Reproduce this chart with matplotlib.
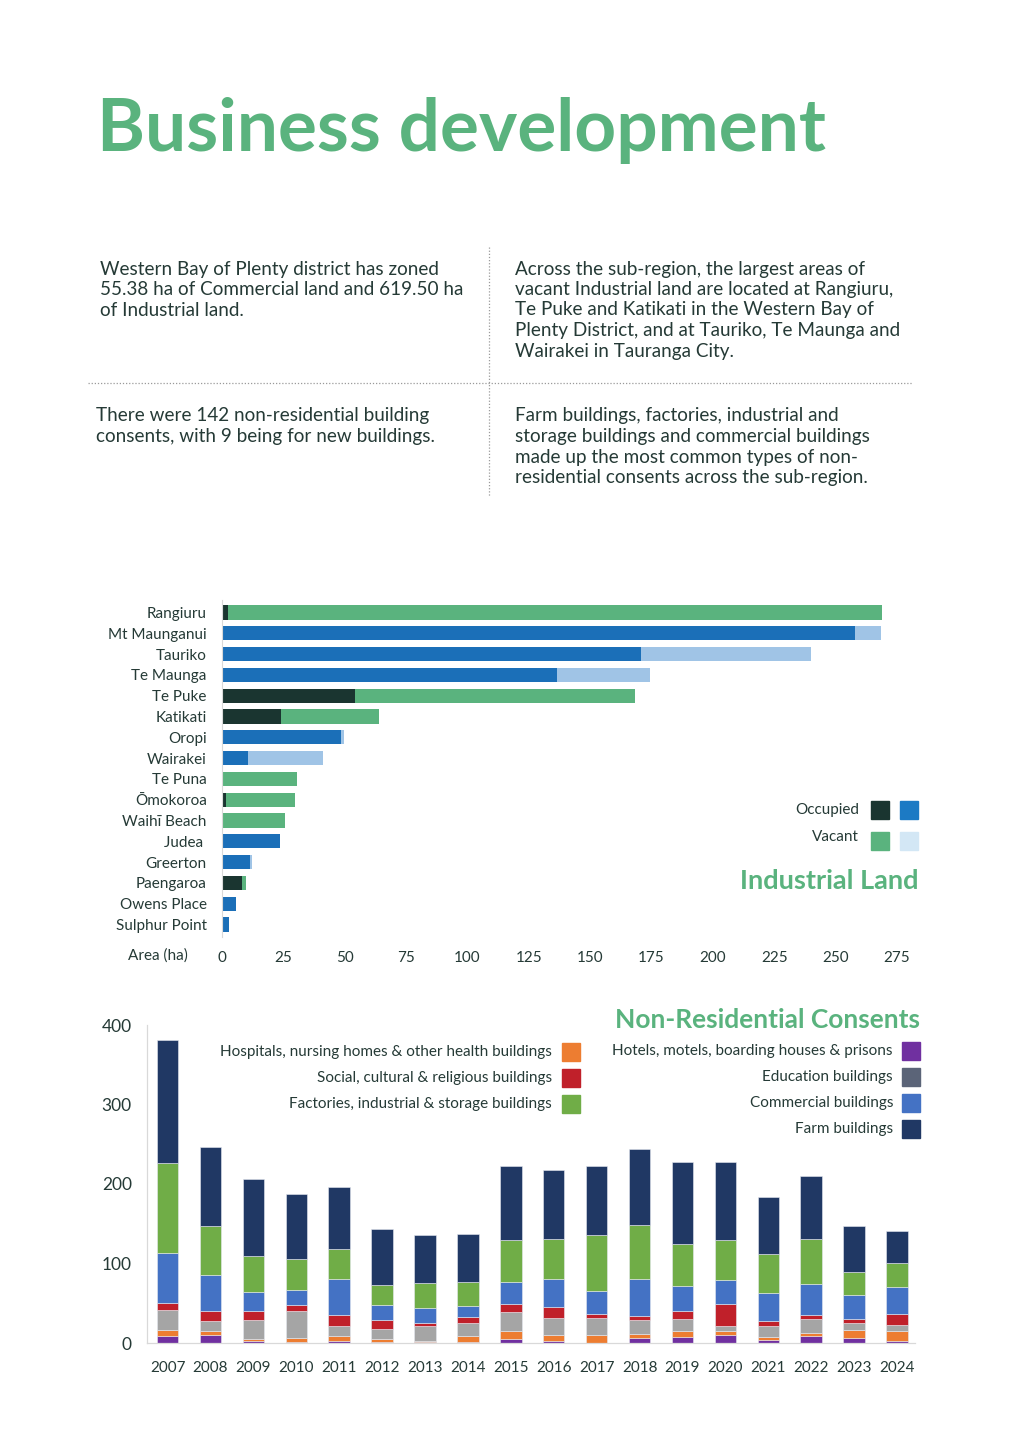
import numpy as np
import matplotlib
matplotlib.use("Agg")
import matplotlib.pyplot as plt
from matplotlib.patches import Rectangle
from matplotlib.lines import Line2D

plt.rcParams['font.family'] = ['Lato', 'DejaVu Sans']

# ---- data ----
locations = ['Rangiuru', 'Mt Maunganui', 'Tauriko', 'Te Maunga', 'Te Puke', 'Katikati',
             'Oropi', 'Wairakei', 'Te Puna', 'Ōmokoroa', 'Waihī Beach', 'Judea ',
             'Greerton', 'Paengaroa', 'Owens Place', 'Sulphur Point']
# True = Western Bay of Plenty (green palette), False = Tauranga City (blue palette)
is_wbop = [True, False, False, False, True, True, False, False, True, True, True, False,
           False, True, False, False]
occupied = [2.4, 257.7, 170.5, 136.6, 54.2, 24.0, 48.4, 10.6, 0.0, 1.5, 0.0, 23.7,
            11.3, 8.1, 5.9, 2.9]
vacant = [266.6, 10.6, 69.5, 37.9, 114.0, 39.8, 1.2, 30.4, 30.5, 28.4, 25.6, 0.0,
          0.8, 1.5, 0.0, 0.0]
area_ticks = [0, 25, 50, 75, 100, 125, 150, 175, 200, 225, 250, 275]

years = [str(y) for y in range(2007, 2025)]
hotels = [9.2, 10, 2, 1.3, 2.5, 0.8, 0.8, 1.3, 5, 2.5, 0, 5.9, 7.5, 10.5, 3.4, 9.2, 6.3, 2.5]
hospitals = [6.7, 4.6, 3.4, 5, 6.7, 4.6, 2, 7, 10.5, 7, 9.6, 5.5, 8, 4.6, 4.2, 2.9, 10, 12.2]
education = [26, 12.6, 23, 33.5, 12.6, 11.7, 18, 16.4, 24, 22.2, 22.2, 18, 15, 5.9, 14.3, 17.6, 8.4, 8]
social = [8.4, 13.4, 11.3, 8.4, 13, 11.3, 4.2, 8, 9.6, 13.4, 4.6, 5, 9.2, 28.5, 6.3, 5.9, 5, 13.8]
commercial = [63, 44.4, 25, 18.4, 45.3, 18.9, 18.9, 13.4, 27.3, 35.2, 29, 46, 32.3, 29.8, 35.2, 39, 30.2, 34]
factories = [113, 61.6, 45, 39, 38.6, 25.6, 31.4, 31, 53.7, 50.7, 70.9, 67.5, 52.4, 50.3, 49, 56.6, 29.4, 30.2]
farm = [155, 99.4, 96, 81.3, 78, 70, 60.8, 60.4, 92.2, 86, 86, 95.6, 102.7, 98.5, 70.9, 78.4, 57.9, 39.8]

# ---- styling ----
W, H = 1019, 1442
GREEN = '#5ab37e'
TXT = '#253a36'
DARK = '#1a3530'
BLUE = '#1b6fb8'
LBLUE = '#a0c4e6'

fig = plt.figure(figsize=(W / 100, H / 100), dpi=100)


def fx(x):
    return x / W


def fy(y):
    return 1 - y / H


def ax_rect(x0, y0, x1, y1):
    return [fx(x0), fy(y1), fx(x1) - fx(x0), fy(y0) - fy(y1)]


# title
fig.text(fx(97), fy(130), 'Business development', color=GREEN, fontsize=52.5,
         fontweight='bold', va='center', ha='left')

# intro text blocks
blocks = [
    (100, 269, ['Western Bay of Plenty district has zoned',
                '55.38 ha of Commercial land and 619.50 ha',
                'of Industrial land.']),
    (515, 269, ['Across the sub-region, the largest areas of',
                'vacant Industrial land are located at Rangiuru,',
                'Te Puke and Katikati in the Western Bay of',
                'Plenty District, and at Tauriko, Te Maunga and',
                'Wairakei in Tauranga City.']),
    (96, 416, ['There were 142 non-residential building',
               'consents, with 9 being for new buildings.']),
    (515, 416, ['Farm buildings, factories, industrial and',
                'storage buildings and commercial buildings',
                'made up the most common types of non-',
                'residential consents across the sub-region.']),
]
for x, y, lines in blocks:
    for i, line in enumerate(lines):
        fig.text(fx(x), fy(y + i * 20.5), line, color=TXT, fontsize=13.6,
                 va='center', ha='left')

fig.add_artist(Line2D([fx(489), fx(489)], [fy(247), fy(496)], color='#9a9a9a',
                      lw=0.9, ls=(0, (1, 1.5))))
fig.add_artist(Line2D([fx(88), fx(913)], [fy(383), fy(383)], color='#9a9a9a',
                      lw=0.9, ls=(0, (1, 1.5))))

# ---- Industrial land ----
ax1 = fig.add_axes(ax_rect(222, 600, 897, 937))
y = np.arange(len(locations))
occ_col = [DARK if w else BLUE for w in is_wbop]
vac_col = [GREEN if w else LBLUE for w in is_wbop]
ax1.barh(y, occupied, height=0.68, color=occ_col)
ax1.barh(y, vacant, left=occupied, height=0.68, color=vac_col)
ax1.set_ylim(len(locations) - 0.4, -0.6)
ax1.set_xlim(0, 275)
ax1.set_yticks(y)
ax1.set_yticklabels(locations, fontsize=11, color=TXT)
ax1.set_xticks(area_ticks)
ax1.set_xticklabels([str(t) for t in area_ticks], fontsize=11, color=TXT)
ax1.tick_params(length=0)
ax1.tick_params(axis='y', pad=11)
ax1.tick_params(axis='x', pad=10)
for s in ['top', 'right', 'bottom']:
    ax1.spines[s].set_visible(False)
ax1.spines['left'].set_color('#d9d9d9')
ax1.spines['left'].set_linewidth(0.8)
fig.text(fx(158), fy(956), 'Area (ha)', color=TXT, fontsize=11, ha='center', va='center')

# legend
fig.text(fx(859), fy(810), 'Occupied', color=TXT, fontsize=11, ha='right', va='center')
fig.text(fx(859), fy(837), 'Vacant', color=TXT, fontsize=11, ha='right', va='center')
for (x0, y0, c) in [(871, 801, DARK), (900, 801, '#1c7ac4'),
                    (871, 832, GREEN), (900, 832, '#d3e7f5')]:
    fig.add_artist(Rectangle((fx(x0), fy(y0 + 18)), fx(18), 18 / H, color=c,
                             transform=fig.transFigure))
fig.text(fx(918), fy(881), 'Industrial Land', color=GREEN, fontsize=19.5,
         fontweight='bold', ha='right', va='center')

# ---- Non-residential consents ----
ax2 = fig.add_axes(ax_rect(147, 1025, 915, 1343))
series = [
    (hotels, '#7030a0'),
    (hospitals, '#ed7d31'),
    (education, '#a5a5a5'),
    (social, '#c0202a'),
    (commercial, '#4472c4'),
    (factories, '#70ad47'),
    (farm, '#203864'),
]
x = np.arange(len(years))
bottom = np.zeros(len(years))
for vals, c in series:
    ax2.bar(x, vals, bottom=bottom, width=0.5, color=c, edgecolor='#e6e9f0', linewidth=0.4)
    bottom += np.array(vals)
ax2.set_xlim(-0.48, len(years) - 0.58)
ax2.set_ylim(0, 400)
ax2.set_yticks([0, 100, 200, 300, 400])
ax2.set_yticklabels(['0', '100', '200', '300', '400'], fontsize=12.5, color=TXT)
ax2.set_xticks(x)
ax2.set_xticklabels(years, fontsize=11, color=TXT)
ax2.tick_params(length=0)
ax2.tick_params(axis='y', pad=11)
ax2.tick_params(axis='x', pad=13)
for s in ['top', 'right']:
    ax2.spines[s].set_visible(False)
for s in ['left', 'bottom']:
    ax2.spines[s].set_color('#d9d9d9')
    ax2.spines[s].set_linewidth(0.9)

fig.text(fx(920), fy(1020), 'Non-Residential Consents', color=GREEN, fontsize=19,
         fontweight='bold', ha='right', va='center')

left_legend = [('Hospitals, nursing homes & other health buildings', '#ed7d31'),
               ('Social, cultural & religious buildings', '#c0202a'),
               ('Factories, industrial & storage buildings', '#70ad47')]
right_legend = [('Hotels, motels, boarding houses & prisons', '#7030a0'),
                ('Education buildings', '#5b6478'),
                ('Commercial buildings', '#4472c4'),
                ('Farm buildings', '#203864')]
for i, (lab, c) in enumerate(left_legend):
    yy = 1052 + i * 26
    fig.text(fx(552), fy(yy), lab, color=TXT, fontsize=11, ha='right', va='center')
    fig.add_artist(Rectangle((fx(562), fy(yy + 9)), fx(18), 18 / H, color=c,
                             transform=fig.transFigure))
for i, (lab, c) in enumerate(right_legend):
    yy = 1051 + i * 26
    fig.text(fx(893), fy(yy), lab, color=TXT, fontsize=11, ha='right', va='center')
    fig.add_artist(Rectangle((fx(902), fy(yy + 9)), fx(18), 18 / H, color=c,
                             transform=fig.transFigure))

fig.savefig('out.png', dpi=100, facecolor='white')
